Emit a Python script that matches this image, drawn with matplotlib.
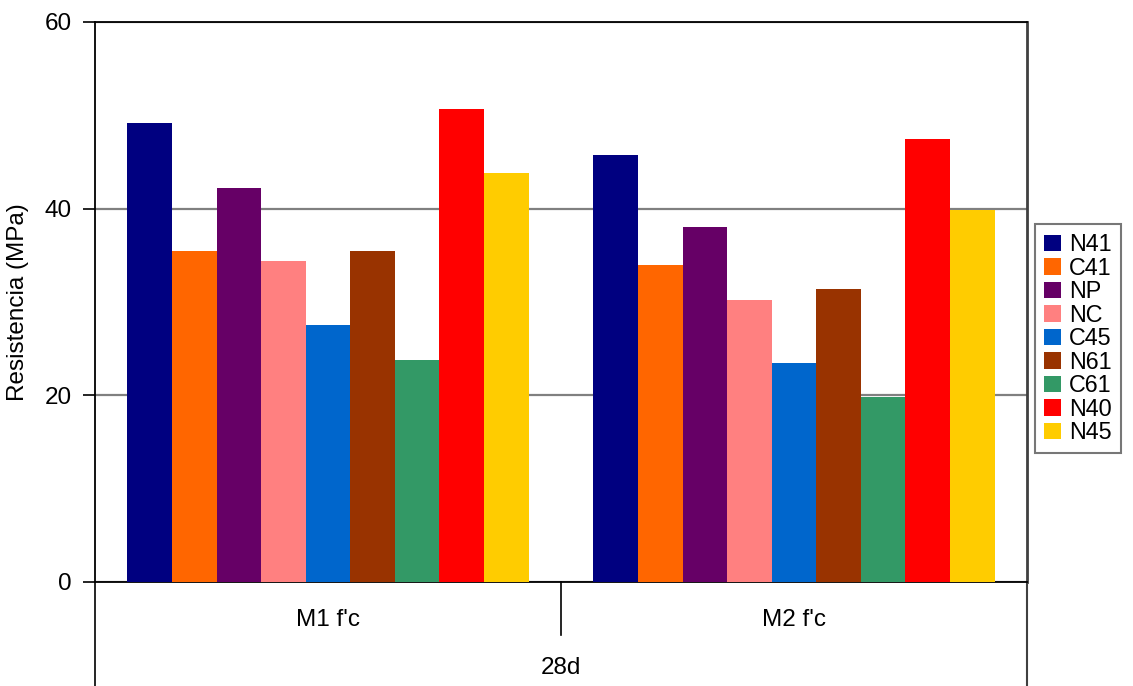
import matplotlib
matplotlib.use("Agg")
import matplotlib.pyplot as plt
from matplotlib.patches import Patch

plt.rcParams['font.family'] = ['Liberation Sans', 'DejaVu Sans']

groups = ["M1 f'c", "M2 f'c"]
outer_label = "28d"
series = ["N41", "C41", "NP", "NC", "C45", "N61", "C61", "N40", "N45"]
colors = ["#000080", "#FF6600", "#660066", "#FF8080", "#0066CC",
          "#993300", "#339966", "#FF0000", "#FFCC00"]
m1_vals = [49.2, 35.5, 42.2, 34.4, 27.5, 35.5, 23.8, 50.7, 43.8]
m2_vals = [45.7, 34.0, 38.0, 30.2, 23.5, 31.4, 19.8, 47.5, 39.9]
values = [m1_vals, m2_vals]

W, H = 1133, 686
fs = 17.5
fig = plt.figure(figsize=(W / 100, H / 100), dpi=100)
ax = fig.add_axes([95 / W, 1 - 582 / H, (1027 - 95) / W, (582 - 22) / H])

bw = 0.0957
start = (1 - bw * len(series)) / 2
for gi, vals in enumerate(values):
    for si, v in enumerate(vals):
        ax.bar(gi + start + si * bw, v, width=bw, align='edge',
               color=colors[si], zorder=3, linewidth=0)

ax.set_xlim(0, 2)
ax.set_ylim(0, 60)
ax.set_yticks([0, 20, 40, 60])
ax.set_xticks([])
ax.tick_params(axis='y', direction='out', length=9, width=1.2,
               labelsize=fs, pad=8, colors='black')
ax.yaxis.grid(True, color='#808080', linewidth=1.6, zorder=0)
for s in ['left', 'bottom', 'top']:
    ax.spines[s].set_color('black')
    ax.spines[s].set_linewidth(1.3)
ax.spines['right'].set_color('#404040')
ax.spines['right'].set_linewidth(2)

# multi-level category axis
y_mid = -(635 - 582) / 560
y_bot = -(690 - 582) / 560
ax.plot([0, 0], [0, y_bot], transform=ax.transAxes, color='black',
        lw=1.2, clip_on=False)
ax.plot([1, 1], [0, y_bot], transform=ax.transAxes, color='#404040',
        lw=1.5, clip_on=False)
ax.plot([0.5, 0.5], [0, y_mid], transform=ax.transAxes, color='black',
        lw=1.2, clip_on=False)
for gi, g in enumerate(groups):
    ax.text(0.25 + gi * 0.5, -(620 - 582) / 560, g, transform=ax.transAxes,
            ha='center', va='center', fontsize=fs)
ax.text(0.5, -(668 - 582) / 560, outer_label, transform=ax.transAxes,
        ha='center', va='center', fontsize=fs)

fig.text(18 / W, 1 - 302 / H, "Resistencia (MPa)", rotation=90,
         ha='center', va='center', fontsize=fs)

handles = [Patch(facecolor=c, edgecolor='none') for c in colors]
leg = fig.legend(handles, series, loc='upper left',
                 bbox_to_anchor=(1035 / W, 1 - 224 / H), fontsize=16.8,
                 frameon=True, fancybox=False, handlelength=0.7,
                 handleheight=0.7, handletextpad=0.35, labelspacing=0.02,
                 borderpad=0.4, borderaxespad=0)
leg.get_frame().set_edgecolor('#555555')
leg.get_frame().set_linewidth(1.5)

fig.savefig("out.png", dpi=100)
